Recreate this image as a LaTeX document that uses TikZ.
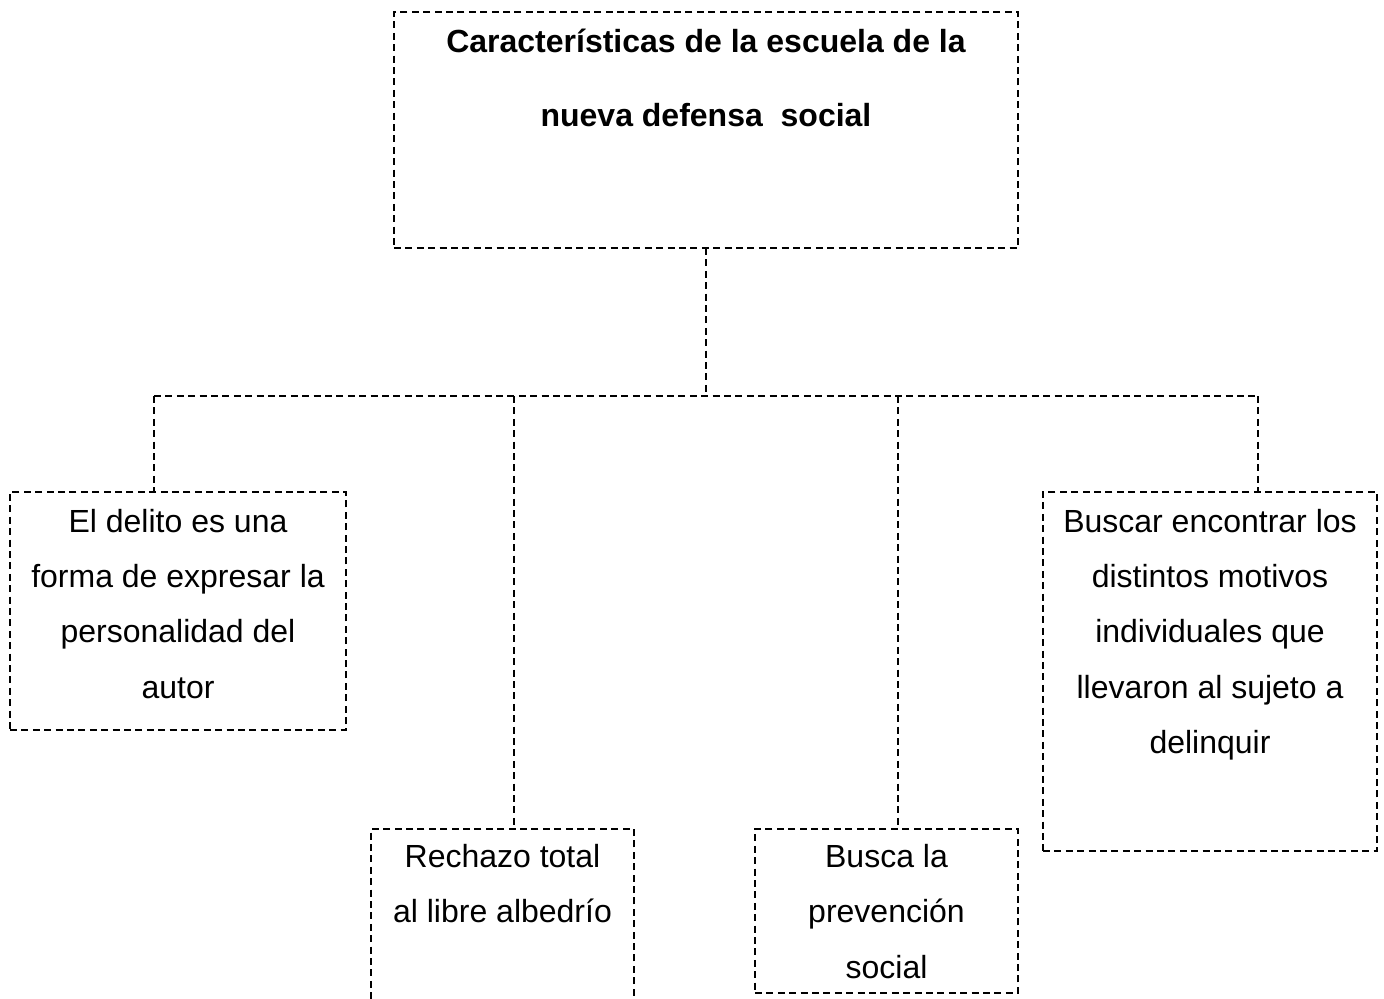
\documentclass[tikz,border=0pt]{standalone}
\usepackage{fontspec}
\setmainfont{Liberation Sans}
\tikzset{
  box/.style={draw, rectangle, line width=1pt, dash pattern=on 3.5pt off 2.2pt, inner sep=0pt, outer sep=0pt},
  conn/.style={line width=1pt, dash pattern=on 3.5pt off 2.2pt},
  body/.style={anchor=base, inner sep=0pt, outer sep=0pt},
}
\newcommand\bodytext[2]{\parbox[t]{#1}{\fontsize{16}{27.6}\selectfont\centering #2}}
\begin{document}
\begin{tikzpicture}[x=0.5pt,y=-0.5pt]
\useasboundingbox[fill=white] (0,0) rectangle (1384,998);
% boxes
\node[box, minimum width=312pt, minimum height=118pt] (top) at (706,130) {};
\node[box, minimum width=168pt, minimum height=119pt] (left) at (178,611) {};
\node[box, minimum width=131.5pt, minimum height=100pt] (rech) at (502.5,929) {};
\node[box, minimum width=131.5pt, minimum height=82pt] (busca) at (886.5,911) {};
\node[box, minimum width=167pt, minimum height=179.5pt] (right) at (1210,671.5) {};
% texts
\node[body] (ttop) at (706,52.3) {\parbox[t]{300pt}{\fontsize{16}{37.3}\selectfont\bfseries\centering Características de la escuela de la\\ nueva defensa\ \ social}};
\node[body] (tleft) at (178,532.5) {\bodytext{160pt}{El delito es una\\forma de expresar la\\personalidad del\\autor}};
\node[body] (trech) at (502.5,867.7) {\bodytext{125pt}{Rechazo total\\al libre albedrío}};
\node[body] (tbusca) at (886.5,867.7) {\bodytext{125pt}{Busca la\\prevención\\social}};
\node[body] (tright) at (1210,532.5) {\bodytext{160pt}{Buscar encontrar los\\distintos motivos\\individuales que\\llevaron al sujeto a\\delinquir}};
% connectors
\coordinate (busL) at (154,396);
\coordinate (busR) at (1258,396);
\coordinate (bus2) at (514,396);
\coordinate (bus3) at (898,396);
\draw[conn] (top.south) -- (top.south |- busL);
\draw[conn] (busL) -- (busR);
\draw[conn] (busL) -- (busL |- left.north);
\draw[conn] (bus2) -- (bus2 |- rech.north);
\draw[conn] (bus3) -- (bus3 |- busca.north);
\draw[conn] (busR) -- (busR |- right.north);
\end{tikzpicture}
\end{document}
